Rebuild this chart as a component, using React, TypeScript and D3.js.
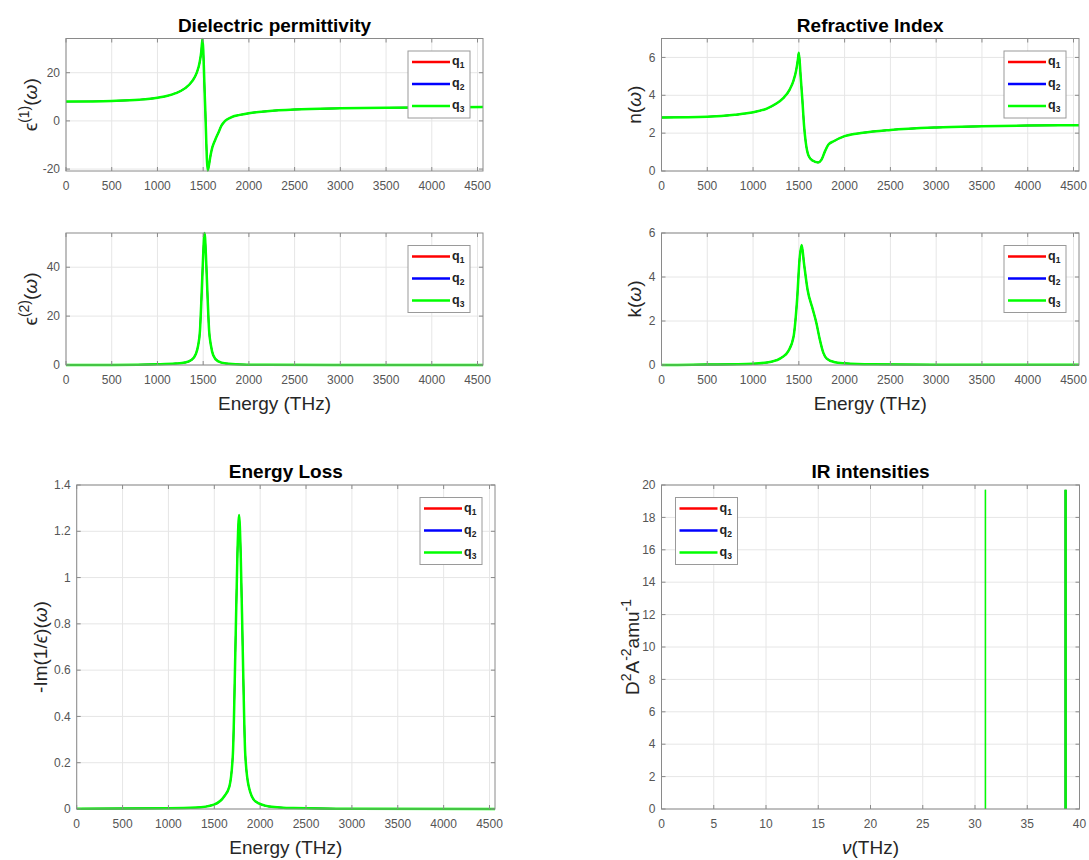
import React from "react";
import * as d3 from "d3";

const W = 1089;
const H = 860;
const FONT = "'Liberation Sans', Arial, Helvetica, sans-serif";

// ---- values ----
const eps1Energy = [0, 500, 800, 1000, 1100, 1200, 1300, 1380, 1430, 1460, 1480, 1492, 1520, 1550, 1565, 1580, 1600, 1630, 1665, 1700, 1740, 1800, 1900, 2000, 2200, 2500, 3000, 3500, 4000, 4560];
const eps1Values = [8.0, 8.3, 8.8, 9.6, 10.3, 11.5, 13.5, 16.5, 20, 24, 29, 34.0, 8, -20.6, -18, -14.5, -11, -8, -5, -2, 0, 1.4, 2.5, 3.2, 4.0, 4.7, 5.2, 5.45, 5.6, 5.75];

const nEnergy = [0, 500, 800, 1000, 1150, 1250, 1330, 1400, 1440, 1470, 1490, 1500, 1520, 1538, 1557, 1576, 1607, 1650, 1710, 1748, 1786, 1824, 1880, 2000, 2200, 2500, 3000, 3500, 4000, 4560];
const nValues = [2.83, 2.87, 2.97, 3.1, 3.3, 3.55, 3.85, 4.3, 4.75, 5.3, 5.9, 6.25, 5.0, 3.8, 2.4, 1.5, 0.8, 0.55, 0.45, 0.6, 1.05, 1.4, 1.57, 1.84, 2.02, 2.17, 2.3, 2.36, 2.4, 2.42];

const eps2Energy = [0, 500, 1000, 1200, 1300, 1370, 1420, 1445, 1465, 1481, 1500, 1515, 1530, 1549, 1565, 1585, 1610, 1660, 1750, 1900, 2200, 3000, 4560];
const eps2Values = [0, 0.05, 0.3, 0.6, 1.0, 2.0, 4.5, 8, 14, 27, 45, 54, 45, 27, 14, 8, 4, 1.6, 0.6, 0.25, 0.1, 0.03, 0.01];

const kEnergy = [0, 500, 1000, 1200, 1310, 1385, 1443, 1481, 1508, 1531, 1557, 1595, 1653, 1691, 1729, 1767, 1805, 1882, 1996, 2300, 3000, 4560];
const kValues = [0, 0.02, 0.06, 0.15, 0.33, 0.63, 1.3, 2.97, 4.8, 5.45, 4.6, 3.43, 2.52, 1.92, 1.16, 0.56, 0.29, 0.14, 0.08, 0.03, 0.015, 0.01];

const lossEnergy = [0, 1000, 1300, 1496, 1609, 1665, 1703, 1729, 1752, 1770, 1788, 1811, 1837, 1875, 1947, 2098, 2361, 3000, 4560];
const lossValues = [0.001, 0.003, 0.006, 0.019, 0.055, 0.098, 0.24, 0.67, 1.1, 1.27, 1.1, 0.67, 0.24, 0.098, 0.033, 0.011, 0.004, 0.001, 0.0005];

const irFreq = [31.0, 38.62, 38.72];
const irIntensity = [19.7, 19.7, 19.7];

const energyTicks = [0, 500, 1000, 1500, 2000, 2500, 3000, 3500, 4000, 4500];
const nuTicks = [0, 5, 10, 15, 20, 25, 30, 35, 40];
const eps1Ticks = [-20, 0, 20];
const nTicks = [0, 2, 4, 6];
const eps2Ticks = [0, 20, 40];
const kTicks = [0, 2, 4, 6];
const lossTicks = [0, 0.2, 0.4, 0.6, 0.8, 1, 1.2, 1.4];
const irTicks = [0, 2, 4, 6, 8, 10, 12, 14, 16, 18, 20];

const seriesNames = ["1", "2", "3"];
const seriesColors = ["#ff0000", "#0000ff", "#00ff00"];

const TICK_COLOR = "#555555";
const LABEL_COLOR = "#262626";
const AXIS_COLOR = "#8a8a8a";
const GRID_COLOR = "#e6e6e6";

function Legend({ x0, y0 }) {
  const w = 62;
  const h = 67;
  return (
    <g>
      <rect x={x0} y={y0} width={w} height={h} fill="#fff" stroke="#9a9a9a" strokeWidth={1} />
      {seriesNames.map((s, i) => {
        const ry = y0 + 11 + i * 22;
        return (
          <g key={s}>
            <line x1={x0 + 4} x2={x0 + 42} y1={ry} y2={ry} stroke={seriesColors[i]} strokeWidth={2.5} />
            <text x={x0 + 44} y={ry + 3} fontFamily={FONT} fontWeight="bold" fontSize={12.5} fill="#222">
              q<tspan fontSize={8.5} dy={3}>{s}</tspan>
            </text>
          </g>
        );
      })}
    </g>
  );
}

function Panel({ id, box, xDomain, yDomain, xTicks, yTicks, xs, ys, stems, title, xLabel, yLabel, yLabelX, legendLeft }) {
  const x = d3.scaleLinear().domain(xDomain).range([box.x0, box.x1]);
  const y = d3.scaleLinear().domain(yDomain).range([box.y1, box.y0]);
  const fmt = (v) => String(+v.toFixed(2));

  const line = d3
    .line()
    .x((d) => x(d[0]))
    .y((d) => y(d[1]))
    .curve(d3.curveMonotoneX);

  let paths = [];
  if (stems) {
    paths = xs.map((f, i) => d3.line()([[x(f), y(0)], [x(f), y(ys[i])]]));
  } else {
    paths = [line(xs.map((v, i) => [v, ys[i]]))];
  }

  const cx = (box.x0 + box.x1) / 2;
  const cy = (box.y0 + box.y1) / 2;
  const legendX = legendLeft ? box.x0 + 14 : box.x1 - 13 - 62;
  const legendY = box.y0 + 12.5;
  const top = seriesNames.length - 1;

  return (
    <g>
      <defs>
        <clipPath id={id}>
          <rect x={box.x0} y={box.y0 - 2} width={box.x1 - box.x0} height={box.y1 - box.y0 + 4} />
        </clipPath>
      </defs>
      {/* grid */}
      {xTicks.map((t) => (
        <line key={"gx" + t} x1={x(t)} x2={x(t)} y1={box.y0} y2={box.y1} stroke={GRID_COLOR} />
      ))}
      {yTicks.map((t) => (
        <line key={"gy" + t} x1={box.x0} x2={box.x1} y1={y(t)} y2={y(t)} stroke={GRID_COLOR} />
      ))}

      {/* data: q1..q3 coincide, the last one (green) covers the others */}
      <g clipPath={`url(#${id})`}>
        {seriesNames.map((s, i) => (
          <g key={s}>
            {paths.map((p, j) => (
              <path
                key={j}
                d={p}
                fill="none"
                stroke={seriesColors[i]}
                strokeWidth={stems ? (i === top ? 1.5 : 0.8) : i === top ? 2.5 : 1.4}
                strokeLinejoin="round"
              />
            ))}
          </g>
        ))}
      </g>

      {/* box + inward ticks */}
      <rect x={box.x0} y={box.y0} width={box.x1 - box.x0} height={box.y1 - box.y0} fill="none" stroke={AXIS_COLOR} strokeWidth={1} />
      {xTicks.map((t) => (
        <g key={"tx" + t}>
          <line x1={x(t)} x2={x(t)} y1={box.y1} y2={box.y1 - 4} stroke={AXIS_COLOR} />
          <line x1={x(t)} x2={x(t)} y1={box.y0} y2={box.y0 + 4} stroke={AXIS_COLOR} />
          <text x={x(t)} y={box.y1 + 19} textAnchor="middle" fontFamily={FONT} fontSize={12} fill={TICK_COLOR}>
            {fmt(t)}
          </text>
        </g>
      ))}
      {yTicks.map((t) => (
        <g key={"ty" + t}>
          <line x1={box.x0} x2={box.x0 + 4} y1={y(t)} y2={y(t)} stroke={AXIS_COLOR} />
          <line x1={box.x1} x2={box.x1 - 4} y1={y(t)} y2={y(t)} stroke={AXIS_COLOR} />
          <text x={box.x0 - 6} y={y(t)} dy="0.35em" textAnchor="end" fontFamily={FONT} fontSize={12} fill={TICK_COLOR}>
            {fmt(t)}
          </text>
        </g>
      ))}

      {title && (
        <text x={cx} y={box.y0 - 7} textAnchor="middle" fontFamily={FONT} fontWeight="bold" fontSize={19} fill="#000">
          {title}
        </text>
      )}
      {xLabel && (
        <text x={cx} y={box.y1 + 45} textAnchor="middle" fontFamily={FONT} fontSize={19} fill={LABEL_COLOR}>
          {xLabel}
        </text>
      )}
      <text transform={`translate(${yLabelX},${cy}) rotate(-90)`} textAnchor="middle" fontFamily={FONT} fontSize={19} fill={LABEL_COLOR}>
        {yLabel}
      </text>

      <Legend x0={legendX} y0={legendY} />
    </g>
  );
}

const omega = <tspan fontStyle="italic">ω</tspan>;

export default function App() {
  const eDomain = [0, 4560];
  return (
    <svg width={W} height={H} style={{ position: "absolute", left: 0, top: 0, background: "#fff" }}>
      <rect x={0} y={0} width={W} height={H} fill="#fff" />
      <Panel
        id="c1"
        box={{ x0: 66, x1: 483, y0: 38.5, y1: 171 }}
        xDomain={eDomain}
        yDomain={[-20.8, 34.2]}
        xTicks={energyTicks}
        yTicks={eps1Ticks}
        xs={eps1Energy}
        ys={eps1Values}
        title="Dielectric permittivity"
        yLabelX={37}
        yLabel={
          <>
            ϵ<tspan fontSize={14} dy={-8}>(1)</tspan>
            <tspan dy={8}>(</tspan>
            {omega})
          </>
        }
      />
      <Panel
        id="c2"
        box={{ x0: 661.5, x1: 1079, y0: 38.5, y1: 171 }}
        xDomain={eDomain}
        yDomain={[0, 7]}
        xTicks={energyTicks}
        yTicks={nTicks}
        xs={nEnergy}
        ys={nValues}
        title="Refractive Index"
        yLabelX={641}
        yLabel={<>n({omega})</>}
      />
      <Panel
        id="c3"
        box={{ x0: 66, x1: 483, y0: 233, y1: 365 }}
        xDomain={eDomain}
        yDomain={[0, 54]}
        xTicks={energyTicks}
        yTicks={eps2Ticks}
        xs={eps2Energy}
        ys={eps2Values}
        xLabel="Energy (THz)"
        yLabelX={37}
        yLabel={
          <>
            ϵ<tspan fontSize={14} dy={-8}>(2)</tspan>
            <tspan dy={8}>(</tspan>
            {omega})
          </>
        }
      />
      <Panel
        id="c4"
        box={{ x0: 661.5, x1: 1079, y0: 233, y1: 365 }}
        xDomain={eDomain}
        yDomain={[0, 6]}
        xTicks={energyTicks}
        yTicks={kTicks}
        xs={kEnergy}
        ys={kValues}
        xLabel="Energy (THz)"
        yLabelX={641}
        yLabel={<>k({omega})</>}
      />
      <Panel
        id="c5"
        box={{ x0: 76.7, x1: 495, y0: 485, y1: 809 }}
        xDomain={eDomain}
        yDomain={[0, 1.4]}
        xTicks={energyTicks}
        yTicks={lossTicks}
        xs={lossEnergy}
        ys={lossValues}
        title="Energy Loss"
        xLabel="Energy (THz)"
        yLabelX={47}
        yLabel={
          <>
            -Im(1/<tspan fontStyle="italic">ϵ</tspan>)({omega})
          </>
        }
      />
      <Panel
        id="c6"
        box={{ x0: 661.5, x1: 1079.5, y0: 485, y1: 809 }}
        xDomain={[0, 40]}
        yDomain={[0, 20]}
        xTicks={nuTicks}
        yTicks={irTicks}
        xs={irFreq}
        ys={irIntensity}
        stems
        legendLeft
        title="IR intensities"
        xLabel={
          <>
            <tspan fontStyle="italic">ν</tspan>(THz)
          </>
        }
        yLabelX={639}
        yLabel={
          <>
            D<tspan fontSize={14} dy={-8}>2</tspan>
            <tspan dy={8}>A</tspan>
            <tspan fontSize={14} dy={-8}>-2</tspan>
            <tspan dy={8}>amu</tspan>
            <tspan fontSize={14} dy={-8}>-1</tspan>
          </>
        }
      />
    </svg>
  );
}
